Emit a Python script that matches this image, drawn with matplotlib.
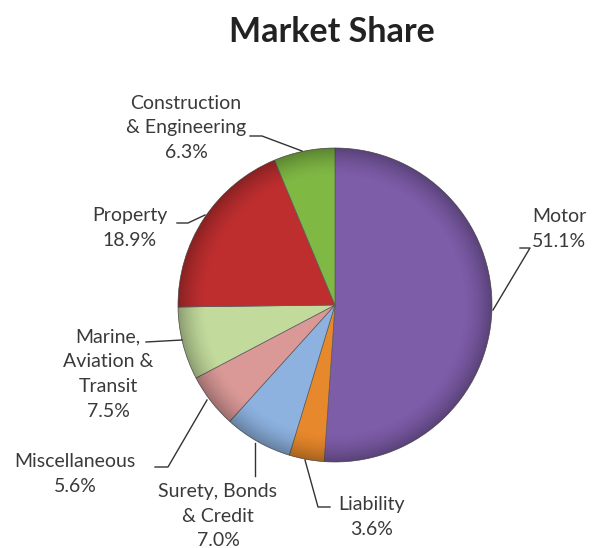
import numpy as np
import matplotlib
matplotlib.use("Agg")
import matplotlib.pyplot as plt
from matplotlib.patches import Circle

# Market share by line of business (percent)
categories = ["Motor", "Liability", "Surety, Bonds\n& Credit", "Miscellaneous",
              "Marine,\nAviation &\nTransit", "Property", "Construction\n& Engineering"]
shares = [51.1, 3.6, 7.0, 5.6, 7.5, 18.9, 6.3]

colors = ["#7D5CA8", "#E8882C", "#8DB2E0", "#DA9997", "#C2DA9C", "#BE2E2F", "#80B844"]

W, H = 595, 548
fig = plt.figure(figsize=(W / 100, H / 100), dpi=100)
ax = fig.add_axes([0, 0, 1, 1])

def yy(py):
    return H - py

cx, cy, R = 335, yy(305), 157

wedges, _ = ax.pie(shares, startangle=90, counterclock=False, colors=colors,
                   center=(cx, cy), radius=R,
                   wedgeprops=dict(edgecolor="#5a5a5a", linewidth=0.5))

# soft darkening toward the rim
n = 400
gx, gy = np.meshgrid(np.linspace(-1, 1, n), np.linspace(-1, 1, n))
r = np.sqrt(gx ** 2 + gy ** 2)
t = np.clip((r - 0.82) / 0.18, 0, 1)
shade = np.zeros((n, n, 4))
shade[..., 3] = 0.28 * t ** 1.6
clip = Circle((cx, cy), R, transform=ax.transData)
im = ax.imshow(shade, extent=(cx - R, cx + R, cy - R, cy + R), origin="lower",
               zorder=3, interpolation="bilinear")
im.set_clip_path(clip)

ax.set_xlim(0, W)
ax.set_ylim(0, H)
ax.set_aspect("equal")
ax.axis("off")

font = "Lato"
tc = "#3a3a3a"

# label anchor (centre of text block, pixel coords) and leader polyline
layout = [
    ((559, 229), [(520, 248), (530, 248), (493, 310)]),
    ((372, 517), [(305, 460), (318, 507), (330, 507)]),
    ((218, 516), [(255, 443), (255, 476)]),
    ((75, 474), [(155, 467), (168, 467), (207, 400)]),
    ((108, 374), [(146, 342), (182, 340)]),
    ((130, 228), [(177, 223), (188, 223), (205, 215)]),
    ((186, 128), [(250, 136), (262, 136), (302, 151)]),
]

for name, val, (pos, line) in zip(categories, shares, layout):
    ax.text(pos[0], yy(pos[1]), f"{name}\n{val:.1f}%", ha="center", va="center",
            fontsize=14, family=font, color=tc, linespacing=1.55, zorder=5)
    xs = [p[0] for p in line]
    ys = [yy(p[1]) for p in line]
    ax.plot(xs, ys, color="#333333", lw=1.0, zorder=4)

ax.text(332, yy(32), "Market Share", ha="center", va="center", fontsize=24.5,
        fontweight="bold", family=font, color="#222222")

fig.savefig("out.png", dpi=100)
